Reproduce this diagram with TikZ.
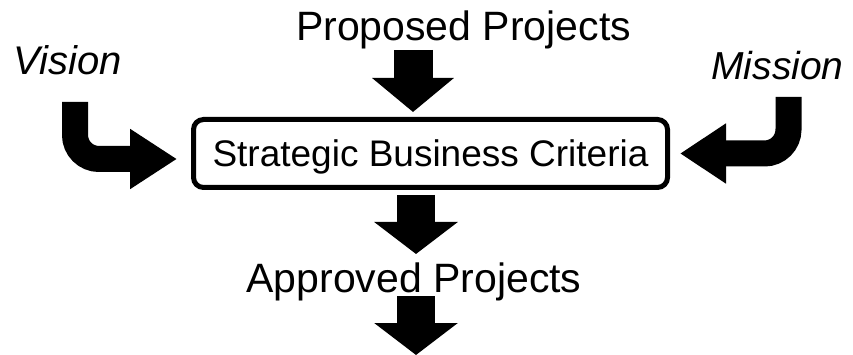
\documentclass[tikz,border=0pt]{standalone}
\usepackage{fontspec}
\setmainfont{Liberation Sans}
\usetikzlibrary{arrows.meta}
\begin{document}
\begin{tikzpicture}[x=1pt,y=-1pt,
  lbl/.style={inner sep=0pt, anchor=base},
  blockdown/.style={line width=38pt, line cap=butt, -{Triangle[length=32pt,width=82pt]}},
  bentarrow/.style={line width=26pt, line cap=butt, rounded corners=24pt},
  critbox/.style={draw, line width=5pt, rounded corners=10pt, minimum width=474pt, minimum height=68pt, inner sep=0pt, text height=27pt, text depth=0pt}]
\useasboundingbox (0,0) rectangle (853,355);
% texts
\node[lbl, font=\fontsize{41}{41}\selectfont] (prop) at (463.5,41) {Proposed Projects};
\node[lbl, font=\fontsize{40}{40}\selectfont\itshape] (vis) at (67.5,75) {Vision};
\node[lbl, font=\fontsize{39}{39}\selectfont\itshape] (mis) at (777.5,80) {Mission};
\node[critbox, font=\fontsize{37}{37}\selectfont] (box) at (430.5,153.5) {Strategic Business Criteria};
\node[lbl, font=\fontsize{41}{41}\selectfont] (appr) at (414,292) {Approved Projects};
% coordinates for arrow ends
\coordinate (a1s) at (413,50);
\coordinate (a1e) at (413,112);
\coordinate (a2s) at (416,195);
\coordinate (a2e) at (416,254);
\coordinate (a3s) at (416,296);
\coordinate (a3e) at (416,355);
\coordinate (vs) at (75,102);
\coordinate (ve) at (177,159);
\coordinate (ms) at (788.5,97);
\coordinate (me) at (680,153.5);
% arrows
\draw[line width=39pt, line cap=butt, -{Triangle[length=34pt,width=80pt]}] (a1s) -- (a1e);
\draw[blockdown] (a2s) -- (a2e);
\draw[blockdown] (a3s) -- (a3e);
\draw[bentarrow, -{Triangle[length=47pt,width=57pt]}] (vs) |- (ve);
\draw[bentarrow, -{Triangle[length=46pt,width=57pt]}] (ms) |- (me);
\end{tikzpicture}
\end{document}
